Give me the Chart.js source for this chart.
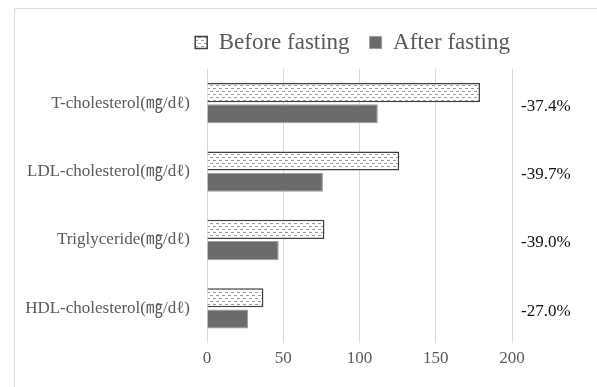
<!DOCTYPE html>
<html>
<head>
<meta charset="utf-8">
<script src="https://cdn.jsdelivr.net/npm/chart.js@4"></script>
<style>
    body { margin: 0; background: #fff; }
    #wrap { width: 597px; height: 387px; position: relative; }
</style>
</head>
<body>
<div id="wrap"><canvas id="chart"></canvas></div>
<script>
const categories = ["T-cholesterol(㎎/dℓ)", "LDL-cholesterol(㎎/dℓ)", "Triglyceride(㎎/dℓ)", "HDL-cholesterol(㎎/dℓ)"];
const beforeFasting = [179, 126, 77, 37];
const afterFasting = [112, 76, 47, 27];
const changeLabels = ["-37.4%", "-39.7%", "-39.0%", "-27.0%"];
const xTicks = [0, 50, 100, 150, 200];

const FONT = "'Liberation Serif', 'Noto Sans CJK KR', serif";

// dotted fill for the "before" bars
function makePattern() {
    const p = document.createElement("canvas");
    p.width = 6;
    p.height = 6;
    const c = p.getContext("2d");
    c.fillStyle = "#ffffff";
    c.fillRect(0, 0, 6, 6);
    c.fillStyle = "#9a9a9a";
    c.fillRect(0, 1, 3, 1);
    c.fillRect(3, 4, 3, 1);
    return document.getElementById("chart").getContext("2d").createPattern(p, "repeat");
}

const pattern = makePattern();

const framePlugin = {
    id: "frame",
    afterLayout(chart) {
        // nudge the legend right and up like the original
        const lg = chart.legend;
        lg.right += 18;
        lg.left += 18;
        lg.top -= 5;
        lg.bottom -= 5;
    },
    afterDraw(chart) {
        const ctx = chart.ctx;
        ctx.save();
        ctx.strokeStyle = "#d9d9d9";
        ctx.lineWidth = 1;
        ctx.beginPath();
        ctx.moveTo(14.5, 387);
        ctx.lineTo(14.5, 8.5);
        ctx.lineTo(597, 8.5);
        ctx.stroke();

        // percent change column
        const y = chart.scales.y;
        ctx.fillStyle = "#111";
        ctx.font = "17px " + FONT;
        ctx.textBaseline = "middle";
        ctx.textAlign = "left";
        changeLabels.forEach((t, i) => {
            ctx.fillText(t, 521, y.getPixelForValue(i) + 3);
        });
        ctx.restore();
    }
};

new Chart(document.getElementById("chart"), {
    type: "bar",
    data: {
        labels: categories,
        datasets: [{
            label: "Before fasting",
            data: beforeFasting,
            backgroundColor: pattern,
            borderColor: "#404040",
            borderWidth: 1.5,
            categoryPercentage: 0.62,
            barPercentage: 0.9
        }, {
            label: "After fasting",
            data: afterFasting,
            backgroundColor: "#6b6b6b",
            borderColor: "#9a9a9a",
            borderWidth: 1,
            categoryPercentage: 0.62,
            barPercentage: 0.9
        }]
    },
    options: {
        indexAxis: "y",
        responsive: true,
        maintainAspectRatio: false,
        animation: false,
        layout: { padding: { left: 14, right: 85, top: 16, bottom: 12 } },
        plugins: {
            tooltip: { enabled: false },
            legend: {
                position: "top",
                align: "end",
                labels: {
                    boxWidth: 12,
                    boxHeight: 12,
                    padding: 20,
                    color: "#595959",
                    font: { family: FONT, size: 23 }
                }
            }
        },
        scales: {
            x: {
                min: 0,
                max: 200,
                afterBuildTicks(s) { s.ticks = xTicks.map(v => ({ value: v })); },
                grid: { color: "#d9d9d9", drawTicks: false },
                border: { display: false },
                ticks: { color: "#595959", padding: 6, font: { family: FONT, size: 17 } }
            },
            y: {
                grid: { display: false },
                border: { display: false },
                afterFit(s) { s.width = 193; },
                ticks: { color: "#595959", padding: 9, font: { family: FONT, size: 17 } }
            }
        }
    },
    plugins: [framePlugin]
});
</script>
</body>
</html>
